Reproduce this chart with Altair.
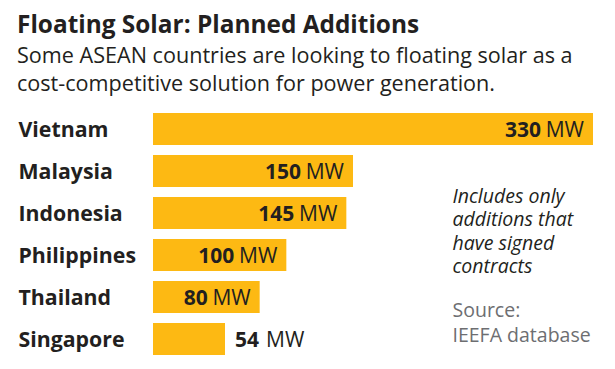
import altair as alt
import pandas as pd

# ---- data ----
countries = ["Vietnam", "Malaysia", "Indonesia", "Philippines", "Thailand", "Singapore"]
capacity_mw = [330, 150, 145, 100, 80, 54]
unit = "MW"

title_text = "Floating Solar: Planned Additions"
subtitle_lines = [
    "Some ASEAN countries are looking to floating solar as a",
    "cost-competitive solution for power generation.",
]
note_lines = ["Includes only", "additions that", "have signed", "contracts"]
source_lines = ["Source:", "IEEFA database"]

FONT = "Open Sans"
BAR = "#FDB913"
INK = "#231f20"
GREY = "#6d6e71"

df = pd.DataFrame({"country": countries, "mw": capacity_mw})
df["num"] = df["mw"].astype(str)
df["unit"] = unit

y_enc = alt.Y("country:N", sort=countries,
              scale=alt.Scale(paddingInner=0.236, paddingOuter=0.118), axis=None)
x_scale = alt.Scale(domain=[0, max(capacity_mw)], nice=False)

base = alt.Chart(df)

bars = base.mark_bar(color=BAR).encode(
    x=alt.X("mw:Q", scale=x_scale, axis=None),
    y=y_enc,
)

names = base.mark_text(font=FONT, fontWeight="bold", fontSize=21.3, color=INK,
                       align="left", baseline="alphabetic", dy=7.5).encode(
    x=alt.value(-134.5), y=y_enc, text="country:N")

inside = base.transform_filter("datum.mw >= 60")
outside = base.transform_filter("datum.mw < 60")

in_unit = inside.mark_text(font=FONT, fontSize=21, color=INK, align="right",
                           baseline="alphabetic", dx=-9, dy=7.5).encode(
    x=alt.X("mw:Q", scale=x_scale), y=y_enc, text="unit:N")
in_num = inside.mark_text(font=FONT, fontWeight="bold", fontSize=21, color=INK,
                          align="right", baseline="alphabetic", dx=-52, dy=7.5).encode(
    x=alt.X("mw:Q", scale=x_scale), y=y_enc, text="num:N")
out_num = outside.mark_text(font=FONT, fontWeight="bold", fontSize=21, color=INK,
                            align="left", baseline="alphabetic", dx=10, dy=7.5).encode(
    x=alt.X("mw:Q", scale=x_scale), y=y_enc, text="num:N")
out_unit = outside.mark_text(font=FONT, fontSize=21, color=INK, align="left",
                             baseline="alphabetic", dx=41, dy=7.5).encode(
    x=alt.X("mw:Q", scale=x_scale), y=y_enc, text="unit:N")

title = alt.Chart(pd.DataFrame({"t": [title_text]})).mark_text(
    font=FONT, fontWeight="bold", fontSize=24.4, color=INK, align="left",
    baseline="alphabetic").encode(x=alt.value(-136), y=alt.value(-75), text="t:N")

subtitle = alt.Chart(pd.DataFrame({"t": ["\n".join(subtitle_lines)]})).mark_text(
    font=FONT, fontSize=21.6, color=INK, align="left", baseline="alphabetic",
    lineBreak="\n", lineHeight=27.7).encode(
    x=alt.value(-136), y=alt.value(-45), text="t:N")

note = alt.Chart(pd.DataFrame({"t": ["\n".join(note_lines)]})).mark_text(
    font=FONT, fontSize=19.5, fontStyle="italic", color=INK, align="left",
    baseline="alphabetic", lineBreak="\n", lineHeight=23.5).encode(
    x=alt.value(299.5), y=alt.value(94.7), text="t:N")

source = alt.Chart(pd.DataFrame({"t": ["\n".join(source_lines)]})).mark_text(
    font=FONT, fontSize=19.5, color=GREY, align="left",
    baseline="alphabetic", lineBreak="\n", lineHeight=25).encode(
    x=alt.value(299.5), y=alt.value(208.7), text="t:N")

chart = alt.layer(bars, names, in_unit, in_num, out_num, out_unit,
                  title, subtitle, note, source).properties(
    width=440, height=252,
    autosize=alt.AutoSizeParams(type="none"),
    padding={"left": 145, "top": 100, "right": 14, "bottom": 0},
    background="white",
).configure_view(stroke=None)

chart.save("out.html", embed_options={"renderer": "svg", "actions": False})
